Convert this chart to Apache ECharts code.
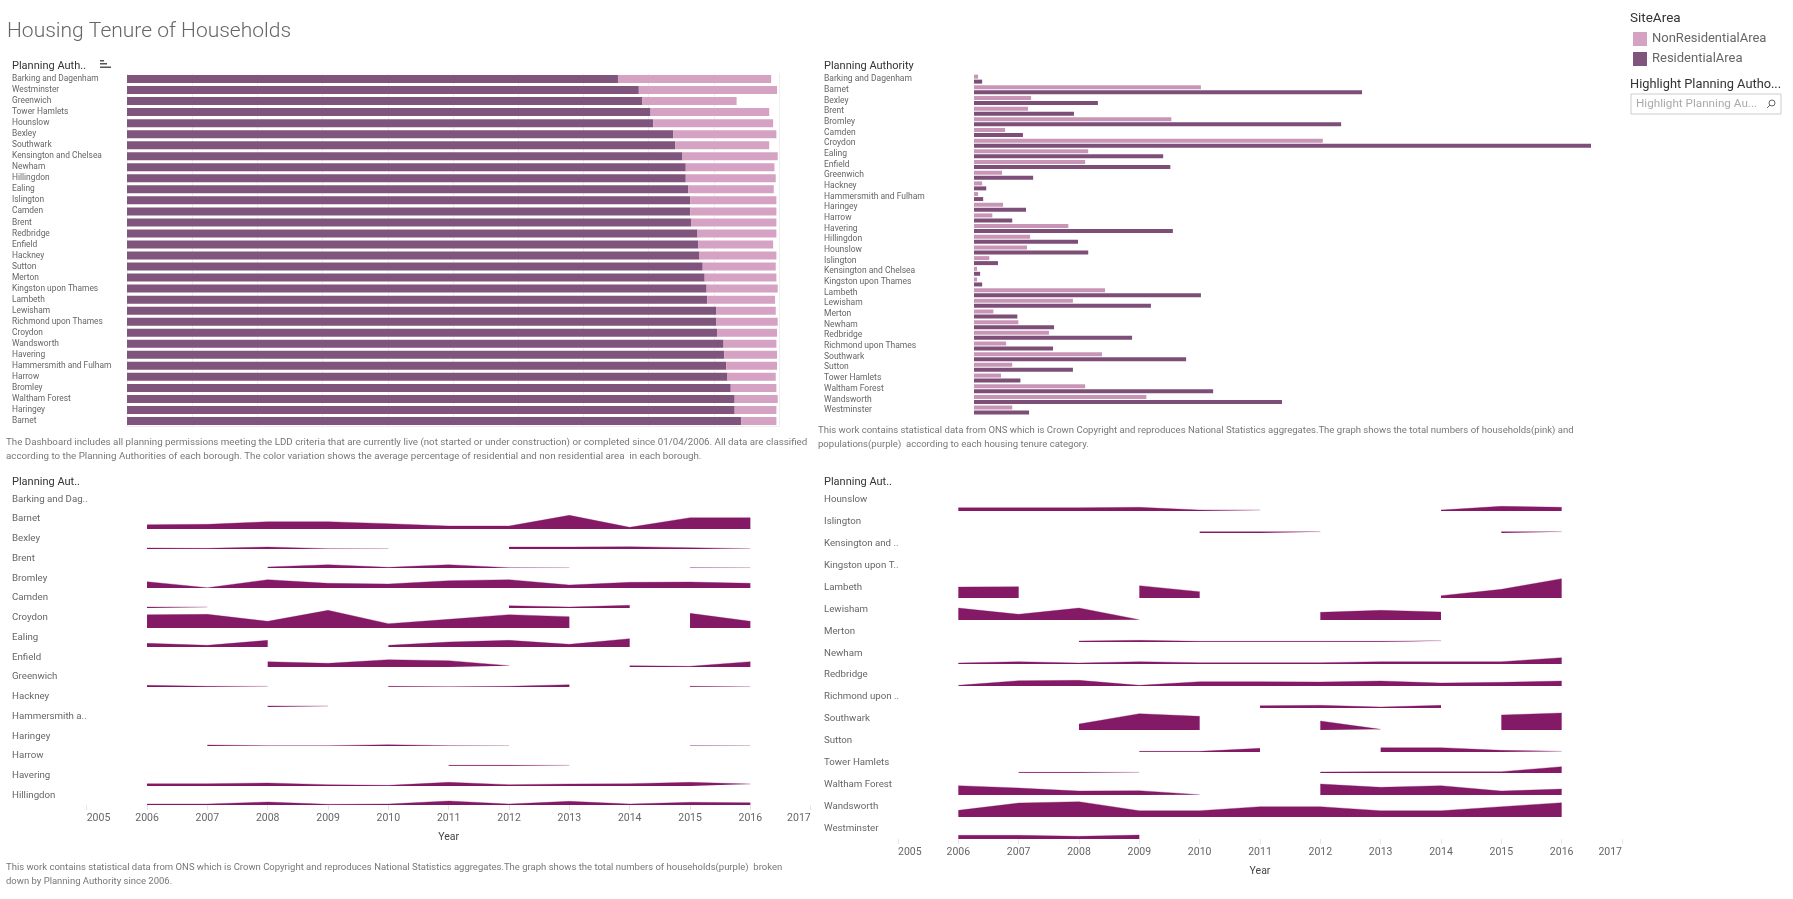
<!DOCTYPE html>
<html>
<head>
<meta charset="utf-8">
<title>Housing Tenure of Households</title>
<style>
  html, body { margin: 0; padding: 0; background: #fff; }
  #main { width: 1793px; height: 899px; }
</style>
<script src="https://cdn.jsdelivr.net/npm/echarts@6/dist/echarts.min.js"></script>
</head>
<body>
<div id="main"></div>
<script>
// Percentage bars, sorted by residential share
const shareNames = ['Barking and Dagenham', 'Westminster', 'Greenwich', 'Tower Hamlets', 'Hounslow', 'Bexley', 'Southwark', 'Kensington and Chelsea', 'Newham', 'Hillingdon', 'Ealing', 'Islington', 'Camden', 'Brent', 'Redbridge', 'Enfield', 'Hackney', 'Sutton', 'Merton', 'Kingston upon Thames', 'Lambeth', 'Lewisham', 'Richmond upon Thames', 'Croydon', 'Wandsworth', 'Havering', 'Hammersmith and Fulham', 'Harrow', 'Bromley', 'Waltham Forest', 'Haringey', 'Barnet'];
const shareResidential = [75.3, 78.5, 79.0, 80.3, 80.7, 83.8, 84.1, 85.2, 85.7, 85.7, 86.1, 86.4, 86.4, 86.5, 87.5, 87.6, 87.8, 88.3, 88.6, 88.9, 89.0, 90.4, 90.4, 90.5, 91.5, 91.6, 91.9, 92.1, 92.6, 93.2, 93.2, 94.2];
const shareNonResidential = [23.5, 21.2, 14.5, 18.2, 18.4, 15.8, 14.4, 14.6, 13.6, 13.8, 13.1, 13.2, 13.2, 13.1, 12.1, 11.5, 11.8, 11.2, 11.0, 10.9, 10.4, 9.1, 9.4, 9.2, 8.1, 8.1, 7.8, 7.4, 7.0, 6.6, 6.4, 5.4];

// Totals per borough, alphabetical (no axis in the picture, so read in relative units)
const totalNames = ['Barking and Dagenham', 'Barnet', 'Bexley', 'Brent', 'Bromley', 'Camden', 'Croydon', 'Ealing', 'Enfield', 'Greenwich', 'Hackney', 'Hammersmith and Fulham', 'Haringey', 'Harrow', 'Havering', 'Hillingdon', 'Hounslow', 'Islington', 'Kensington and Chelsea', 'Kingston upon Thames', 'Lambeth', 'Lewisham', 'Merton', 'Newham', 'Redbridge', 'Richmond upon Thames', 'Southwark', 'Sutton', 'Tower Hamlets', 'Waltham Forest', 'Wandsworth', 'Westminster'];
const totalNonResidential = [8, 445, 112, 106, 387, 61, 684, 224, 218, 55, 16, 8, 57, 36, 185, 110, 104, 30, 6, 6, 257, 194, 38, 87, 147, 63, 251, 75, 53, 218, 338, 75];
const totalResidential = [16, 761, 243, 196, 720, 96, 1210, 371, 385, 116, 24, 18, 102, 75, 390, 204, 224, 47, 12, 16, 445, 347, 85, 157, 310, 155, 416, 194, 91, 469, 604, 108];

// Households per year, 2006 to 2016, null where the area breaks
const years = [2006, 2007, 2008, 2009, 2010, 2011, 2012, 2013, 2014, 2015, 2016];
const _ = null;

const leftNames = ['Barking and Dag..', 'Barnet', 'Bexley', 'Brent', 'Bromley', 'Camden', 'Croydon', 'Ealing', 'Enfield', 'Greenwich', 'Hackney', 'Hammersmith a..', 'Haringey', 'Harrow', 'Havering', 'Hillingdon'];
const barking = [_, _, _, _, _, _, _, _, _, _, _];
const barnet = [13, 14, 22, 22, 16, 9, 9, 41, 5, 34, 34];
const bexley = [3, 2, 6, 1, 1, _, 6, 6, 7, 4, 1];
const brent = [_, _, 3, 10, 2, 10, 1, 1, _, 1, 1];
const bromley = [19, 1, 25, 14, 12, 22, 25, 9, 17, 18, 14];
const camden = [3, 3, _, _, _, _, 7, 3, 8, _, _];
const croydon = [40, 41, 20, 53, 13, 26, 40, 34, _, 44, 20];
const ealing = [11, 5, 20, _, 5, 15, 20, 8, 25, _, _];
const enfield = [_, _, 16, 11, 22, 19, 4, _, 4, 2, 16];
const greenwich = [5, 2, 2, _, 2, 1, 2, 7, _, 2, 1];
const hackney = [_, _, 3, 3, _, _, _, _, _, _, _];
const hammersmith = [_, _, _, _, _, _, _, _, _, _, _];
const haringey = [_, 3, 1, 1, 4, 1, 1, _, _, 1, 1];
const harrow = [_, _, _, _, _, 2, 2, 2, _, _, _];
const havering = [7, 7, 9, 4, 2, 11, 4, 6, 7, 11, 6];
const hillingdon = [3, 3, 9, 2, 3, 12, 3, 11, 3, 8, 7];
const leftValues = [barking, barnet, bexley, brent, bromley, camden, croydon, ealing, enfield, greenwich, hackney, hammersmith, haringey, harrow, havering, hillingdon];

const rightNames = ['Hounslow', 'Islington', 'Kensington and ..', 'Kingston upon T..', 'Lambeth', 'Lewisham', 'Merton', 'Newham', 'Redbridge', 'Richmond upon ..', 'Southwark', 'Sutton', 'Tower Hamlets', 'Waltham Forest', 'Wandsworth', 'Westminster'];
const hounslow = [10, 10, 10, 11, 3, 3, _, _, 3, 14, 11];
const islington = [_, _, _, _, 4, 4, 4, _, _, 4, 4];
const kensington = [_, _, _, _, _, _, _, _, _, _, _];
const kingston = [_, _, _, _, _, _, _, _, _, _, _];
const lambeth = [33, 34, _, 37, 19, _, _, _, 7, 26, 58];
const lewisham = [36, 17, 36, 1, _, _, 23, 29, 24, _, _];
const merton = [_, _, 3, 5, 2, 2, 2, 2, 4, _, _];
const newham = [3, 7, 3, 7, 4, 4, 4, 7, 7, 7, 19];
const redbridge = [2, 16, 17, 2, 13, 13, 12, 15, 9, 11, 15];
const richmond = [_, _, _, _, _, 7, 8, 3, 8, _, _];
const southwark = [_, _, 18, 49, 41, _, 27, 2, _, 45, 51];
const sutton = [_, _, _, 2, 2, 11, _, 13, 13, 5, 2];
const towerHamlets = [_, 2, 2, 2, _, _, 3, 4, 4, 4, 19];
const walthamForest = [28, 21, 12, 13, 1, _, 33, 23, 28, 12, 18];
const wandsworth = [20, 42, 46, 19, 19, 31, 31, 19, 19, 31, 43];
const westminster = [11, 11, 8, 12, _, _, _, _, _, _, _];
const rightValues = [hounslow, islington, kensington, kingston, lambeth, lewisham, merton, newham, redbridge, richmond, southwark, sutton, towerHamlets, walthamForest, wandsworth, westminster];

const fontFamily = 'Roboto, sans-serif';
const chart = echarts.init(document.getElementById('main'));

const grids = [], xAxes = [], yAxes = [], series = [];

function addGrid(grid, xAxis, yAxis) {
  grids.push(Object.assign({ outerBoundsMode: 'none' }, grid));
  xAxes.push(Object.assign({ gridIndex: grids.length - 1 }, xAxis));
  yAxes.push(Object.assign({ gridIndex: grids.length - 1 }, yAxis));
  return grids.length - 1;
}

function nameAxis(names, margin, fontSize) {
  return {
    type: 'category',
    data: names,
    inverse: true,
    axisLine: { show: false },
    axisTick: { show: false },
    axisLabel: { interval: 0, align: 'left', margin, fontSize, color: '#666', fontFamily }
  };
}

// Top left: 100% style stacked bars
const shareIdx = addGrid(
  { left: 127, top: 73.5, width: 652, height: 353 },
  {
    type: 'value', min: 0, max: 100, interval: 10,
    axisLabel: { show: false }, axisTick: { show: false },
    axisLine: { show: true, lineStyle: { color: '#eee' } },
    splitLine: { show: true, lineStyle: { color: '#eee' } }
  },
  nameAxis(shareNames, 115, 8.4)
);
series.push({
  name: 'ResidentialArea', type: 'bar', stack: 'share', barWidth: 8,
  xAxisIndex: shareIdx, yAxisIndex: shareIdx, data: shareResidential,
  itemStyle: { color: '#80557d' }
});
series.push({
  name: 'NonResidentialArea', type: 'bar', stack: 'share', barWidth: 8,
  xAxisIndex: shareIdx, yAxisIndex: shareIdx, data: shareNonResidential,
  itemStyle: { color: '#d5a2c3' }
});

// Top right: side by side totals
const totalIdx = addGrid(
  { left: 974, top: 73.8, width: 617, height: 341.6 },
  { type: 'value', min: 0, max: 1210, show: false, splitLine: { show: false } },
  nameAxis(totalNames, 150, 8.5)
);
series.push({
  name: 'NonResidentialArea', type: 'bar', barWidth: 4, barGap: '25%',
  xAxisIndex: totalIdx, yAxisIndex: totalIdx, data: totalNonResidential,
  itemStyle: { color: '#c995b6' }
});
series.push({
  name: 'ResidentialArea', type: 'bar', barWidth: 4, barGap: '25%',
  xAxisIndex: totalIdx, yAxisIndex: totalIdx, data: totalResidential,
  itemStyle: { color: '#7d4f78' }
});

// Bottom panels: one small area chart per borough
function addAreaPanel(names, values, left, top, rowH, labelLeft) {
  const width = 724;
  addGrid(
    { left, top, width, height: rowH * names.length },
    { type: 'value', show: false },
    nameAxis(names, left - labelLeft, 9.7)
  );
  names.forEach((name, r) => {
    const last = r === names.length - 1;
    // whole pixel rows keep the thin one pixel areas crisp
    const rowTop = Math.round(top + r * rowH);
    const rowBottom = Math.round(top + (r + 1) * rowH);
    const idx = addGrid(
      { left, top: rowTop, width, height: rowBottom - rowTop },
      {
        type: 'value', min: 2005, max: 2017, interval: 1,
        name: last ? 'Year' : '', nameLocation: 'middle', nameGap: 27,
        nameTextStyle: { fontSize: 10.5, color: '#444', fontFamily },
        splitLine: { show: false },
        axisLine: { show: false },
        axisTick: { show: last, length: 5, lineStyle: { color: '#e6e6e6' } },
        axisLabel: {
          show: last, margin: 8, fontSize: 10.5, color: '#666', fontFamily,
          alignMinLabel: 'left', alignMaxLabel: 'right',
          formatter: v => String(v)
        }
      },
      { type: 'value', min: 0, max: (rowBottom - rowTop) * 3, show: false, splitLine: { show: false } }
    );
    series.push({
      name, type: 'line', showSymbol: false, silent: true,
      xAxisIndex: idx, yAxisIndex: idx,
      lineStyle: { width: 0.6, color: '#841966', opacity: 0.55 },
      itemStyle: { color: '#841966' },
      areaStyle: { color: '#841966', opacity: 1 },
      data: years.map((y, i) => [y, values[r][i]])
    });
  });
}

addAreaPanel(leftNames, leftValues, 86.7, 489.3, 19.75, 12);
addAreaPanel(rightNames, rightValues, 898, 489.1, 21.87, 824);

// Plain text blocks placed as in the dashboard
function textAt(x, y, text, fontSize, fill, fontWeight) {
  return { type: 'text', x, y, silent: true, style: { text, fontSize, fill, fontFamily, fontWeight: fontWeight || 'normal', verticalAlign: 'middle' } };
}

const graphic = [
  textAt(7, 32, 'Housing Tenure of Households', 21, '#666', 300),
  textAt(12, 66, 'Planning Auth..', 11, '#333'),
  textAt(824, 66, 'Planning Authority', 11, '#333'),
  textAt(12, 482.7, 'Planning Aut..', 11, '#333'),
  textAt(824, 482.7, 'Planning Aut..', 11, '#333'),
  textAt(6, 442.7, 'The Dashboard includes all planning permissions meeting the LDD criteria that are currently live (not started or under construction) or completed since 01/04/2006. All data are classified', 9.75, '#777'),
  textAt(6, 457, 'according to the Planning Authorities of each borough. The color variation shows the average percentage of residential and non residential area  in each borough.', 9.75, '#777'),
  textAt(818, 431, 'This work contains statistical data from ONS which is Crown Copyright and reproduces National Statistics aggregates.The graph shows the total numbers of households(pink) and', 9.55, '#777'),
  textAt(818, 445, 'populations(purple)  according to each housing tenure category.', 9.55, '#777'),
  textAt(6, 868, 'This work contains statistical data from ONS which is Crown Copyright and reproduces National Statistics aggregates.The graph shows the total numbers of households(purple)  broken', 9.5, '#777'),
  textAt(6, 882, 'down by Planning Authority since 2006.', 9.5, '#777'),
  textAt(1630, 19, 'SiteArea', 13.5, '#333'),
  textAt(1630, 85, 'Highlight Planning Autho...', 12.8, '#333'),
  textAt(1636, 104.5, 'Highlight Planning Au...', 11.7, '#aaa'),
  { type: 'rect', shape: { x: 1631, y: 94, width: 150, height: 20 }, silent: true, style: { fill: 'none', stroke: '#ccc' } },
  { type: 'circle', shape: { cx: 1772, cy: 103, r: 3 }, silent: true, style: { fill: 'none', stroke: '#666' } },
  { type: 'line', shape: { x1: 1770, y1: 105, x2: 1767, y2: 108 }, silent: true, style: { stroke: '#666' } },
  // sort indicator next to the first header
  { type: 'rect', shape: { x: 100, y: 60, width: 4, height: 1.5 }, silent: true, style: { fill: '#555' } },
  { type: 'rect', shape: { x: 100, y: 63, width: 7, height: 1.5 }, silent: true, style: { fill: '#555' } },
  { type: 'rect', shape: { x: 100, y: 66.5, width: 11, height: 1.5 }, silent: true, style: { fill: '#555' } }
];

chart.setOption({
  backgroundColor: '#fff',
  animation: false,
  textStyle: { fontFamily },
  legend: {
    left: 1628, top: 27, orient: 'vertical',
    itemWidth: 14, itemHeight: 14, itemGap: 6, icon: 'rect',
    data: ['NonResidentialArea', 'ResidentialArea'],
    textStyle: { fontSize: 13, color: '#666', fontFamily }
  },
  grid: grids,
  xAxis: xAxes,
  yAxis: yAxes,
  series,
  graphic
});
</script>
</body>
</html>
